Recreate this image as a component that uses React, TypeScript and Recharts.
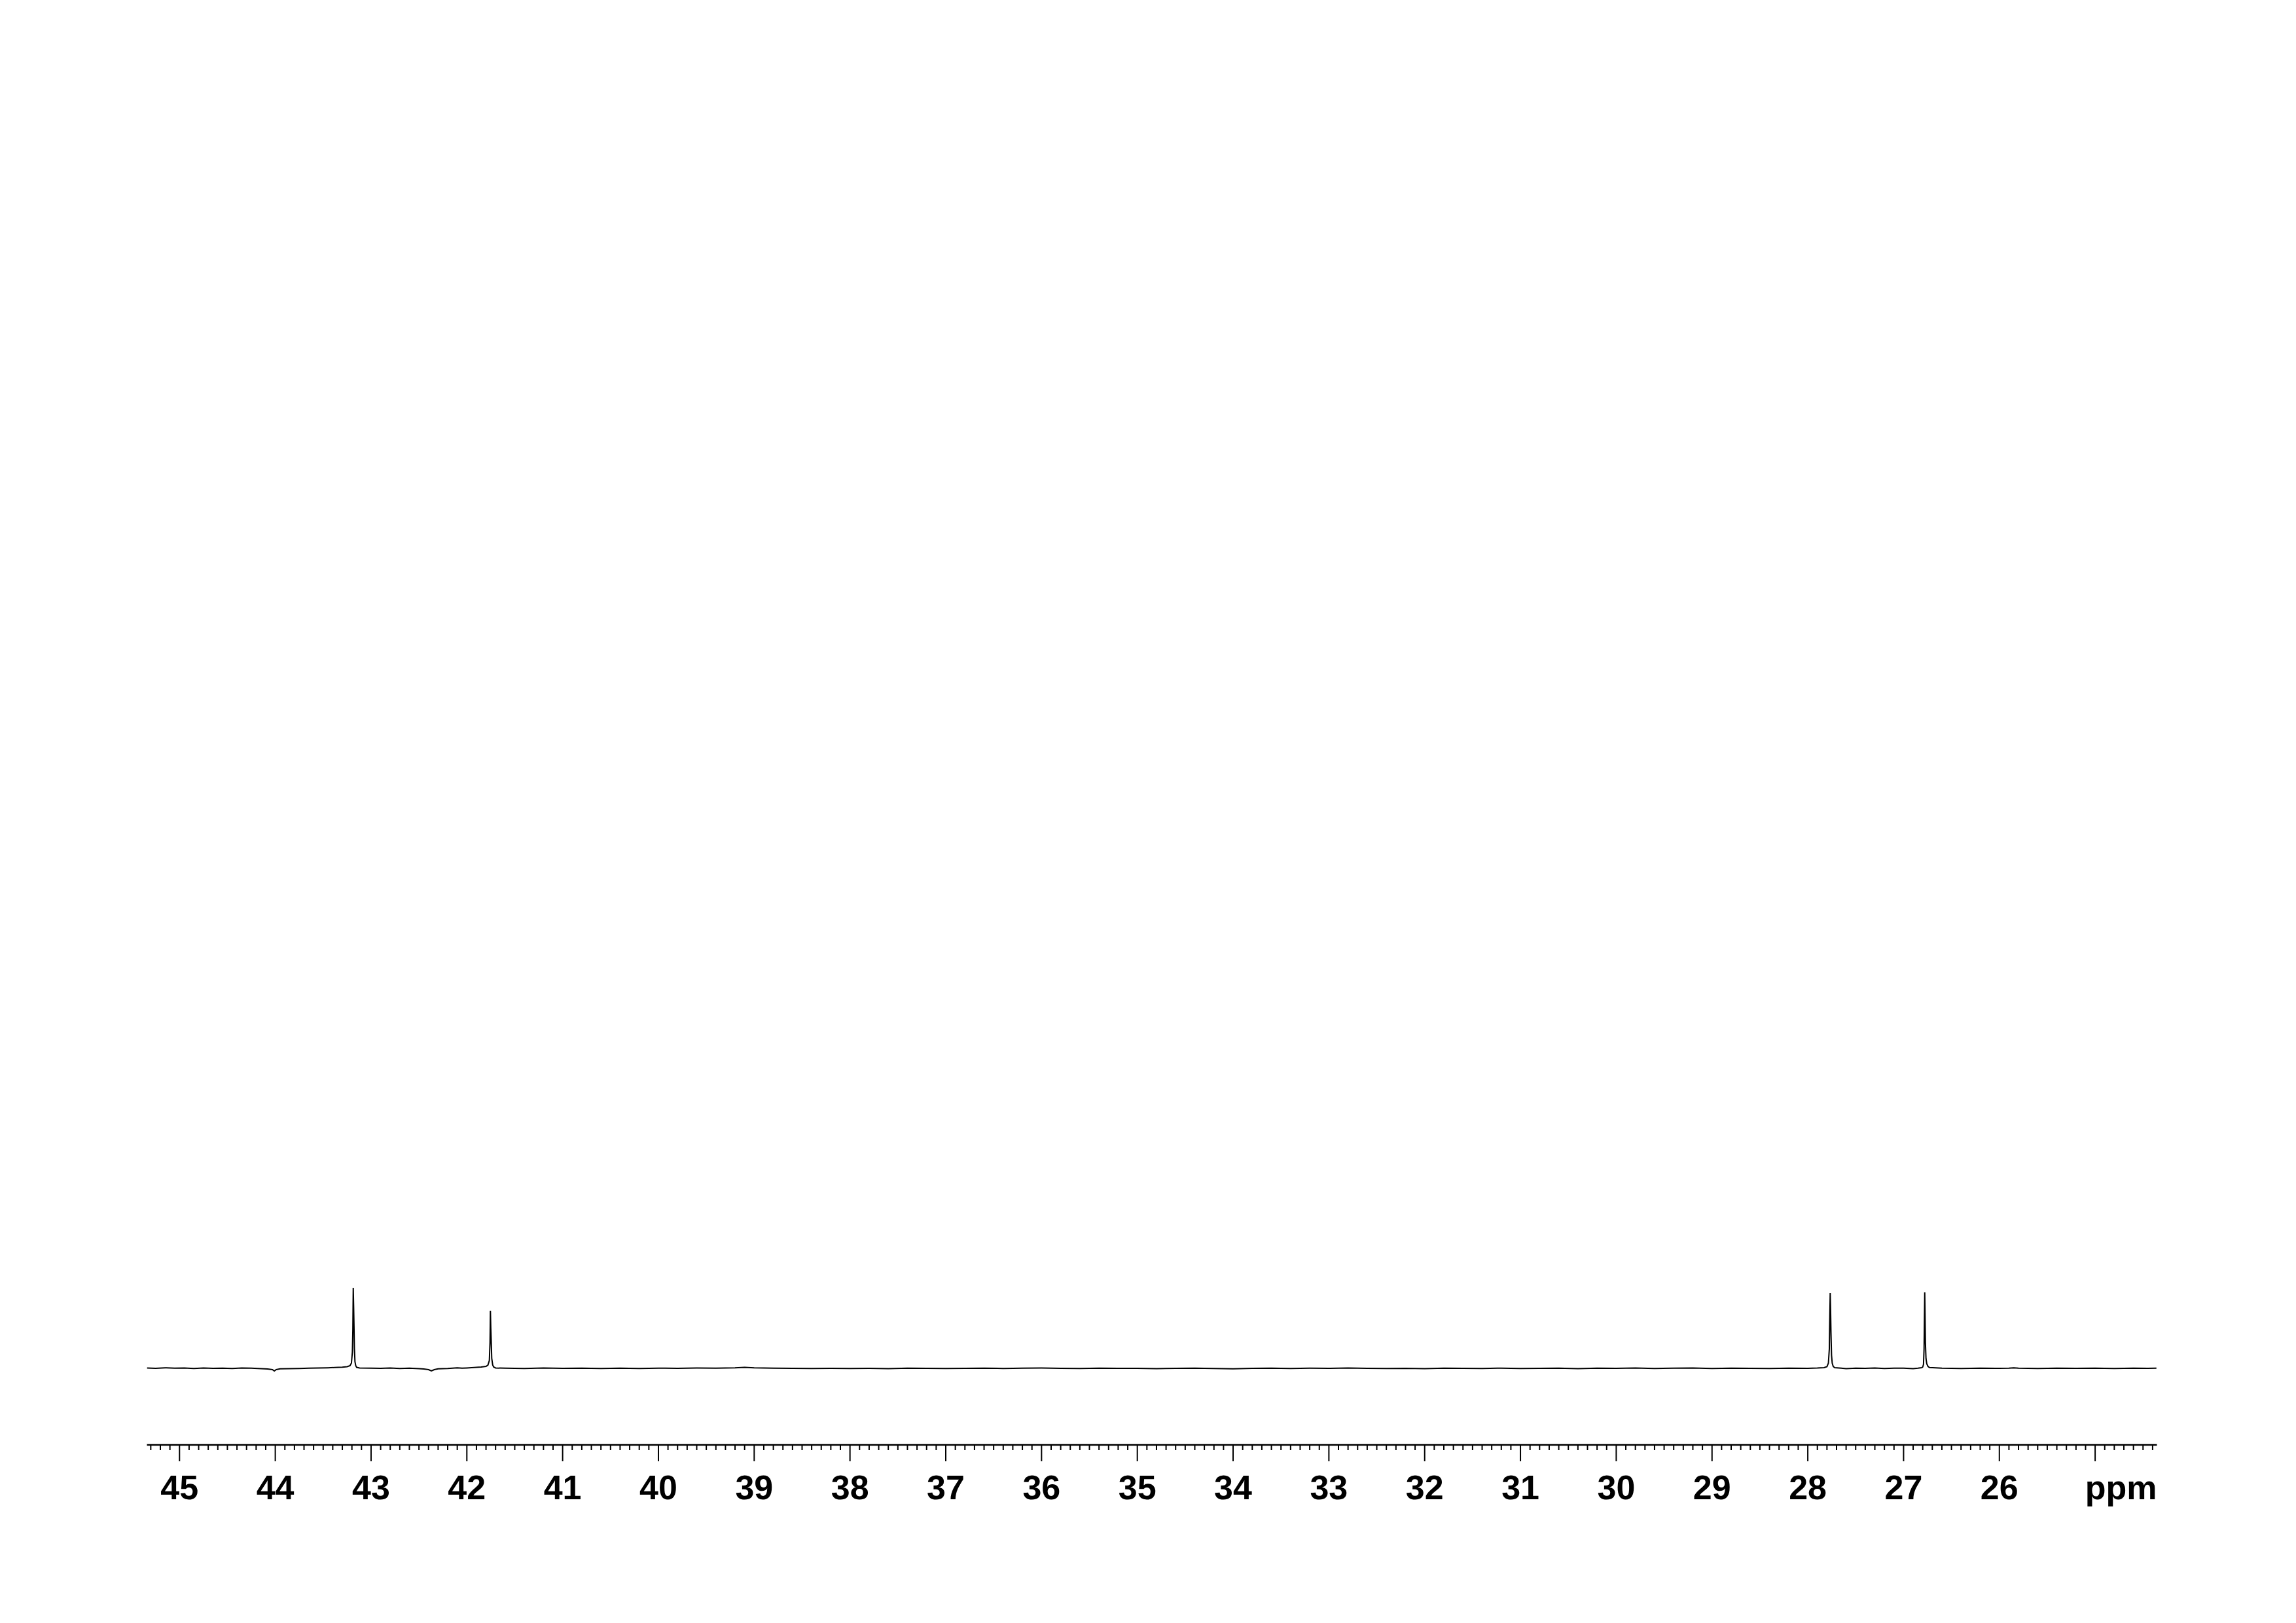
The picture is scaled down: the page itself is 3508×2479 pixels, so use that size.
import React from "react";
import { LineChart, Line, XAxis, YAxis } from "recharts";

// Spectrum segments: chemical shift (ppm) and intensity (arbitrary units)
const segA_ppm = [45.34, 45.25, 45.15, 45.05, 44.95, 44.85, 44.75, 44.65, 44.55, 44.45, 44.35, 44.25, 44.15, 44.08, 44.03, 44.01, 43.99, 43.95, 43.85, 43.75, 43.65, 43.55, 43.45, 43.38, 43.3, 43.25];
const segA_int = [0.5, 0, 0.8, 0.2, 0.6, -0.3, 0.4, 0, 0.3, -0.2, 0.5, 0.2, -0.6, -1, -2, -4, -2, -0.8, -0.5, -0.2, 0.3, 0.5, 0.8, 1.2, 1.8, 2.5];

const peak1_ppm = [43.22, 43.205, 43.195, 43.19, 43.186, 43.182, 43.178, 43.174, 43.168, 43.16, 43.15, 43.12];
const peak1_int = [4, 8, 25, 60, 123, 95, 64, 30, 10, 4, 1.5, 0.5];

const segB_ppm = [43.0, 42.9, 42.8, 42.7, 42.6, 42.5, 42.45, 42.4, 42.37, 42.34, 42.3, 42.2, 42.1, 42.05, 42.0, 41.95, 41.9, 41.85, 41.8];
const segB_int = [0.2, 0, 0.4, -0.2, 0.3, -0.5, -1, -2, -4, -2, -0.8, -0.3, 0.8, 0.3, 0.6, 1, 1.5, 2, 3];

const peak2_ppm = [41.78, 41.765, 41.758, 41.754, 41.75, 41.746, 41.74, 41.73, 41.72, 41.7];
const peak2_int = [5, 12, 40, 88, 62, 45, 15, 5, 2, 0.5];

const segC_ppm = [41.6, 41.4, 41.2, 41.0, 40.8, 40.6, 40.4, 40.2, 40.0, 39.8, 39.6, 39.4, 39.2, 39.1, 39.0, 38.8, 38.6, 38.4, 38.2, 38.0, 37.8, 37.6, 37.4, 37.2, 37.0, 36.8, 36.6, 36.4, 36.2, 36.0, 35.8, 35.6, 35.4, 35.2, 35.0, 34.8, 34.6, 34.4, 34.2, 34.0, 33.8, 33.6, 33.4, 33.2, 33.0, 32.8, 32.6, 32.4, 32.2, 32.0, 31.8, 31.6, 31.4, 31.2, 31.0, 30.8, 30.6, 30.4, 30.2, 30.0, 29.8, 29.6, 29.4, 29.2, 29.0, 28.8, 28.6, 28.4, 28.2, 28.0, 27.9, 27.83];
const segC_int = [0.2, -0.3, 0.4, 0, 0.3, -0.2, 0.2, -0.3, 0.3, 0, 0.4, 0.2, 0.8, 1.5, 0.8, 0.2, 0, -0.3, 0.1, -0.2, 0, -0.4, 0.2, 0, -0.3, 0.1, 0.3, -0.2, 0.2, 0.4, 0, -0.3, 0.2, -0.1, 0.1, -0.4, 0, 0.2, -0.3, -0.8, 0, 0.3, -0.2, 0.2, 0, 0.4, 0, -0.3, 0.1, -0.6, 0.2, 0, -0.3, 0.3, -0.2, 0.1, 0.3, -0.4, 0.2, 0, 0.4, -0.2, 0.3, 0.5, -0.2, 0.3, 0, -0.3, 0.2, 0, 0.4, 1];

const peak3_ppm = [27.8, 27.785, 27.775, 27.77, 27.766, 27.762, 27.758, 27.752, 27.745, 27.735, 27.72];
const peak3_int = [2.5, 8, 30, 80, 115, 90, 55, 20, 8, 3, 1];

const segD_ppm = [27.65, 27.6, 27.5, 27.4, 27.3, 27.2, 27.1, 27.0, 26.9, 26.85, 26.81];
const segD_int = [0.2, -0.4, 0.3, 0, 0.5, -0.3, 0.2, 0.3, -0.4, 0.2, 1];

const peak4_ppm = [26.8, 26.792, 26.786, 26.782, 26.779, 26.776, 26.772, 26.766, 26.758, 26.745, 26.73];
const peak4_int = [2, 6, 30, 80, 116, 85, 40, 15, 7, 3, 1.2];

const segE_ppm = [26.6, 26.4, 26.2, 26.0, 25.9, 25.85, 25.8, 25.6, 25.4, 25.2, 25.0, 24.8, 24.6, 24.45, 24.36];
const segE_int = [0.3, -0.2, 0.3, 0, 0.2, 0.8, 0.2, -0.3, 0.2, -0.1, 0.3, -0.3, 0.2, 0, 0.2];

// Axis
const majorTicks = [45, 44, 43, 42, 41, 40, 39, 38, 37, 36, 35, 34, 33, 32, 31, 30, 29, 28, 27, 26, 25];
const unlabeledTicks = [25];
const axisUnit = "ppm";
const xDomain = [24.355, 45.34];
const yDomain = [-117, 1883];

const segments: [number[], number[]][] = [
  [segA_ppm, segA_int],
  [peak1_ppm, peak1_int],
  [segB_ppm, segB_int],
  [peak2_ppm, peak2_int],
  [segC_ppm, segC_int],
  [peak3_ppm, peak3_int],
  [segD_ppm, segD_int],
  [peak4_ppm, peak4_int],
  [segE_ppm, segE_int],
];

const data: { ppm: number; intensity: number }[] = [];
segments.forEach(([p, v]) => p.forEach((x, i) => data.push({ ppm: x, intensity: v[i] })));

// all ticks at 0.1 ppm steps within the domain
const allTicks: number[] = [];
for (let k = Math.ceil(xDomain[0] * 10); k <= Math.floor(xDomain[1] * 10); k++) {
  allTicks.push(k / 10);
}

const FONT = "'Liberation Sans', Arial, Helvetica, sans-serif";

const isMajor = (v: number) => majorTicks.some((m) => Math.abs(m - v) < 1e-6);

const Tick = (props: any) => {
  const { x, y, payload } = props;
  const v = payload.value;
  const major = isMajor(v);
  const showLabel = major && !unlabeledTicks.some((u) => Math.abs(u - v) < 1e-6);
  return (
    <g>
      <line x1={x} y1={y} x2={x} y2={y + (major ? 25 : 8)} stroke="#000" strokeWidth={2} />
      {showLabel && (
        <text x={x} y={y + 83} textAnchor="middle" fontFamily={FONT} fontWeight="bold" fontSize={52} fill="#000">
          {Math.round(v)}
        </text>
      )}
    </g>
  );
};

const UnitLabel = (props: any) => {
  const vb = props.viewBox || {};
  return (
    <text x={vb.x + vb.width} y={vb.y + 83} textAnchor="end" fontFamily={FONT} fontWeight="bold" fontSize={52} fill="#000">
      {axisUnit}
    </text>
  );
};

export default function App() {
  return (
    <div style={{ position: "absolute", left: 0, top: 0, width: 3508, height: 2479, background: "#fff" }}>
      <LineChart
        width={3508}
        height={2479}
        data={data}
        margin={{ top: 207, right: 212.5, bottom: 172, left: 224.5 }}
      >
        <XAxis
          dataKey="ppm"
          type="number"
          domain={xDomain}
          reversed
          allowDataOverflow
          ticks={allTicks}
          interval={0}
          tick={<Tick />}
          tickLine={false}
          tickSize={0}
          tickMargin={0}
          height={100}
          axisLine={{ stroke: "#000", strokeWidth: 2.5 }}
          label={<UnitLabel />}
        />
        <YAxis hide type="number" domain={yDomain} allowDataOverflow />
        <Line
          dataKey="intensity"
          type="linear"
          stroke="#000"
          strokeWidth={2}
          dot={false}
          isAnimationActive={false}
        />
      </LineChart>
    </div>
  );
}
